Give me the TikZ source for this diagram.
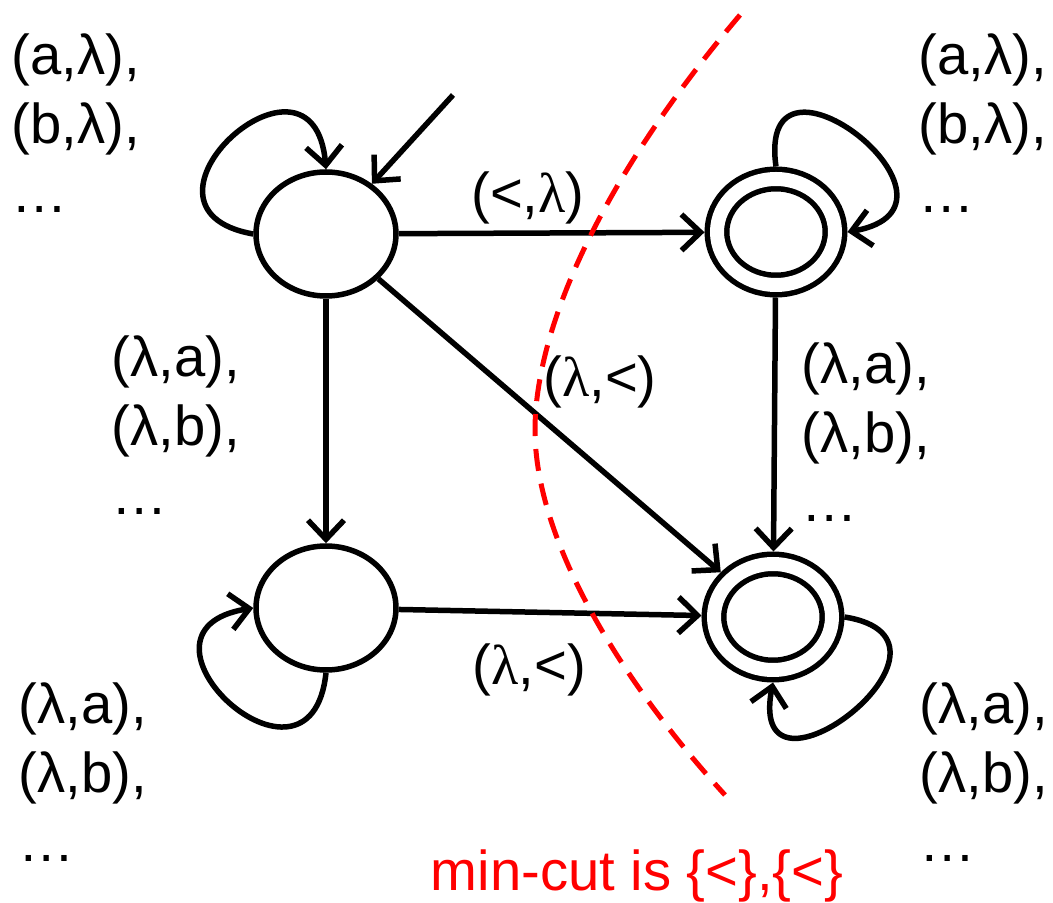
\documentclass[tikz,border=0pt]{standalone}
\usepackage{fontspec}
\setmainfont{Liberation Sans}
\newfontfamily\lamserif{Liberation Serif}
\usetikzlibrary{arrows.meta, shapes.geometric}
\definecolor{cCut}{RGB}{255,0,0}
\newcommand{\slam}{{\lamserif λ}}
\tikzset{
	state/.style  ={ellipse, draw=black, line width=0.055cm, minimum width=1.4cm, minimum height=1.24cm, inner sep=0pt},
	accept/.style ={ellipse, draw=black, line width=0.055cm, double, double distance=0.14cm, minimum width=1.18cm, minimum height=1.06cm, inner sep=0pt, outer sep=0.125cm},
	trans/.style  ={-{Straight Barb[length=1.9mm, width=3.6mm]}, line width=0.055cm},
	looplab/.style={anchor=north west, inner sep=0pt, align=left},
	edgelab/.style={inner sep=0pt},
	cut/.style    ={cCut, dash pattern=on 0.22cm off 0.13cm, line width=0.05cm},
}
\begin{document}
\begin{tikzpicture}[font=\fontsize{16}{19.6}\selectfont]
	\useasboundingbox (0,0) rectangle (10.53,9.03);
	% states
	\node[state]  (q0) at (3.26,6.69) {};
	\node[state]  (q1) at (3.26,2.95) {};
	\node[accept] (q2) at (7.76,6.71) {};
	\node[accept] (q3) at (7.73,2.86) {};
	\coordinate (init) at (4.53,8.08);
	% transitions
	\draw[trans] (init) -- (q0);
	\draw[trans] (q0) -- (q2);
	\draw[trans] (q0) -- (q1);
	\draw[trans] (q0) -- (q3);
	\draw[trans] (q1) -- (q3);
	\draw[trans] (q2) -- (q3);
	% self loops
	\draw[trans] (q0.west)  .. controls +(170:1.45) and +(95:1.45)  .. (q0.north);
	\draw[trans] (q1.south) .. controls +(264:1.45) and +(189:1.45) .. (q1.west);
	\draw[trans] (q2.north) .. controls +(98:1.45)  and +(10:1.45)  .. (q2.east);
	\draw[trans] (q3.east)  .. controls +(-9:1.45)  and +(259:1.45) .. (q3.south);
	% edge labels
	\node[edgelab] (l02) at (5.28,7.055) {(<,\slam)};
	\node[edgelab] (l03) at (6.00,5.215) {(\slam,<)};
	\node[edgelab] (l13) at (5.295,2.335) {(\slam,<)};
	% loop labels
	\node[looplab] (l00) at (0.11,8.70) {(a,λ),\\(b,λ),\\…};
	\node[looplab] (l22) at (9.18,8.70) {(a,λ),\\(b,λ),\\…};
	\node[looplab] (l01) at (1.11,5.68) {(λ,a),\\(λ,b),\\…};
	\node[looplab] (l23) at (8.01,5.61) {(λ,a),\\(λ,b),\\…};
	\node[looplab] (l11) at (0.18,2.21) {(λ,a),\\(λ,b),\\…};
	\node[looplab] (l33) at (9.19,2.21) {(λ,a),\\(λ,b),\\…};
	% min cut
	\draw[cut] (7.40,8.88) .. controls (6.00,7.23) and (5.35,5.73) .. (5.35,4.73)
		.. controls (5.35,3.63) and (6.20,2.23) .. (7.25,1.08);
	\node[cCut, anchor=base west, inner sep=0pt] (cutlab) at (4.30,0.125) {min-cut is \{<\},\{<\}};
\end{tikzpicture}
\end{document}
